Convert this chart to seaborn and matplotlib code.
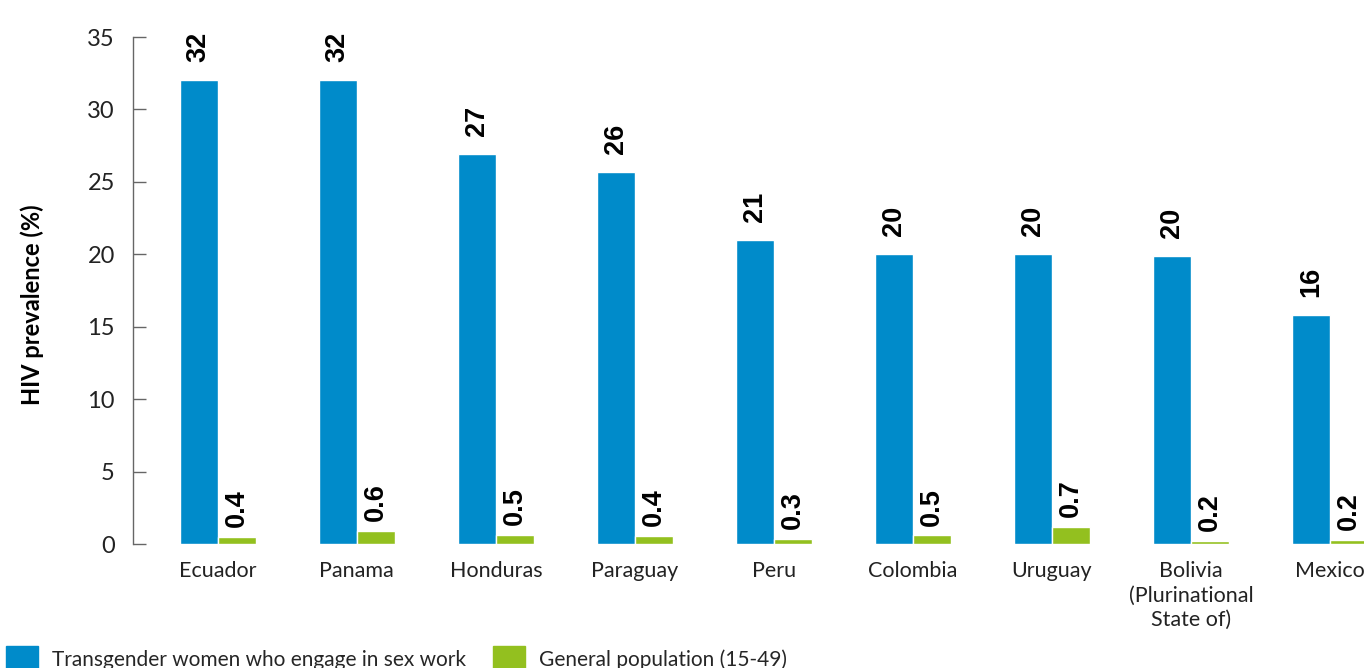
import matplotlib
matplotlib.use("Agg")
import matplotlib.pyplot as plt
import matplotlib.patches as mpatches
import pandas as pd
import seaborn as sns

# dados
paises = ["Ecuador", "Panama", "Honduras", "Paraguay", "Peru", "Colombia",
          "Uruguay", "Bolivia\n(Plurinational\nState of)", "Mexico"]
trans_valor = [32.0, 32.0, 26.9, 25.7, 21.0, 20.0, 20.0, 19.9, 15.8]
trans_rotulo = ["32", "32", "27", "26", "21", "20", "20", "20", "16"]
geral_valor = [0.48, 0.9, 0.62, 0.55, 0.35, 0.6, 1.17, 0.2, 0.28]
geral_rotulo = ["0.4", "0.6", "0.5", "0.4", "0.3", "0.5", "0.7", "0.2", "0.2"]
series = ["Transgender women who engage in sex work", "General population (15-49)"]

azul = "#008BCA"
verde = "#93C01F"

df = pd.DataFrame({
    "pais": paises * 2,
    "valor": trans_valor + geral_valor,
    "grupo": [series[0]] * len(paises) + [series[1]] * len(paises),
})

sns.set_style("white")
plt.rcParams["font.family"] = ["Lato", "DejaVu Sans"]

fig = plt.figure(figsize=(13.64, 6.68), dpi=100)
ax = fig.add_axes([0.0975, 0.1856, 0.9025, 0.759])

sns.barplot(data=df, x="pais", y="valor", hue="grupo", palette=[azul, verde],
            width=0.547, saturation=1, legend=False, ax=ax)

for cont, rotulos, pad in zip(ax.containers, [trans_rotulo, geral_rotulo], [13, 7]):
    ax.bar_label(cont, labels=rotulos, rotation=90, padding=pad,
                 fontsize=19.5, fontweight="bold", color="black",
                 family="Liberation Sans")

ax.set_ylim(0, 35)
ax.set_xlim(-0.61, 8.245)
ax.set_yticks(range(0, 36, 5))
ax.set_xlabel("")
ax.set_ylabel("HIV prevalence (%)", fontsize=17, fontweight="bold", color="black")
ax.yaxis.set_label_coords(-0.072, 0.473)
ax.tick_params(axis="y", direction="in", length=9, width=1, color="#666666",
               labelsize=17, labelcolor="#222222", pad=13, left=True)
ax.tick_params(axis="x", length=0, labelsize=15.5, labelcolor="#222222", pad=12)
for t in ax.get_xticklabels():
    t.set_linespacing(1.3)

sns.despine(ax=ax, top=True, right=True, bottom=True)
ax.spines["left"].set_color("#666666")
ax.spines["left"].set_linewidth(1)

alças = [mpatches.Patch(color=azul), mpatches.Patch(color=verde)]
fig.legend(alças, series, loc="lower left", bbox_to_anchor=(-0.009, -0.035),
           ncol=2, frameon=False, fontsize=15, handlelength=1.5,
           handleheight=1.6, handletextpad=0.7, columnspacing=1.3)

fig.savefig("out.png", dpi=100)
